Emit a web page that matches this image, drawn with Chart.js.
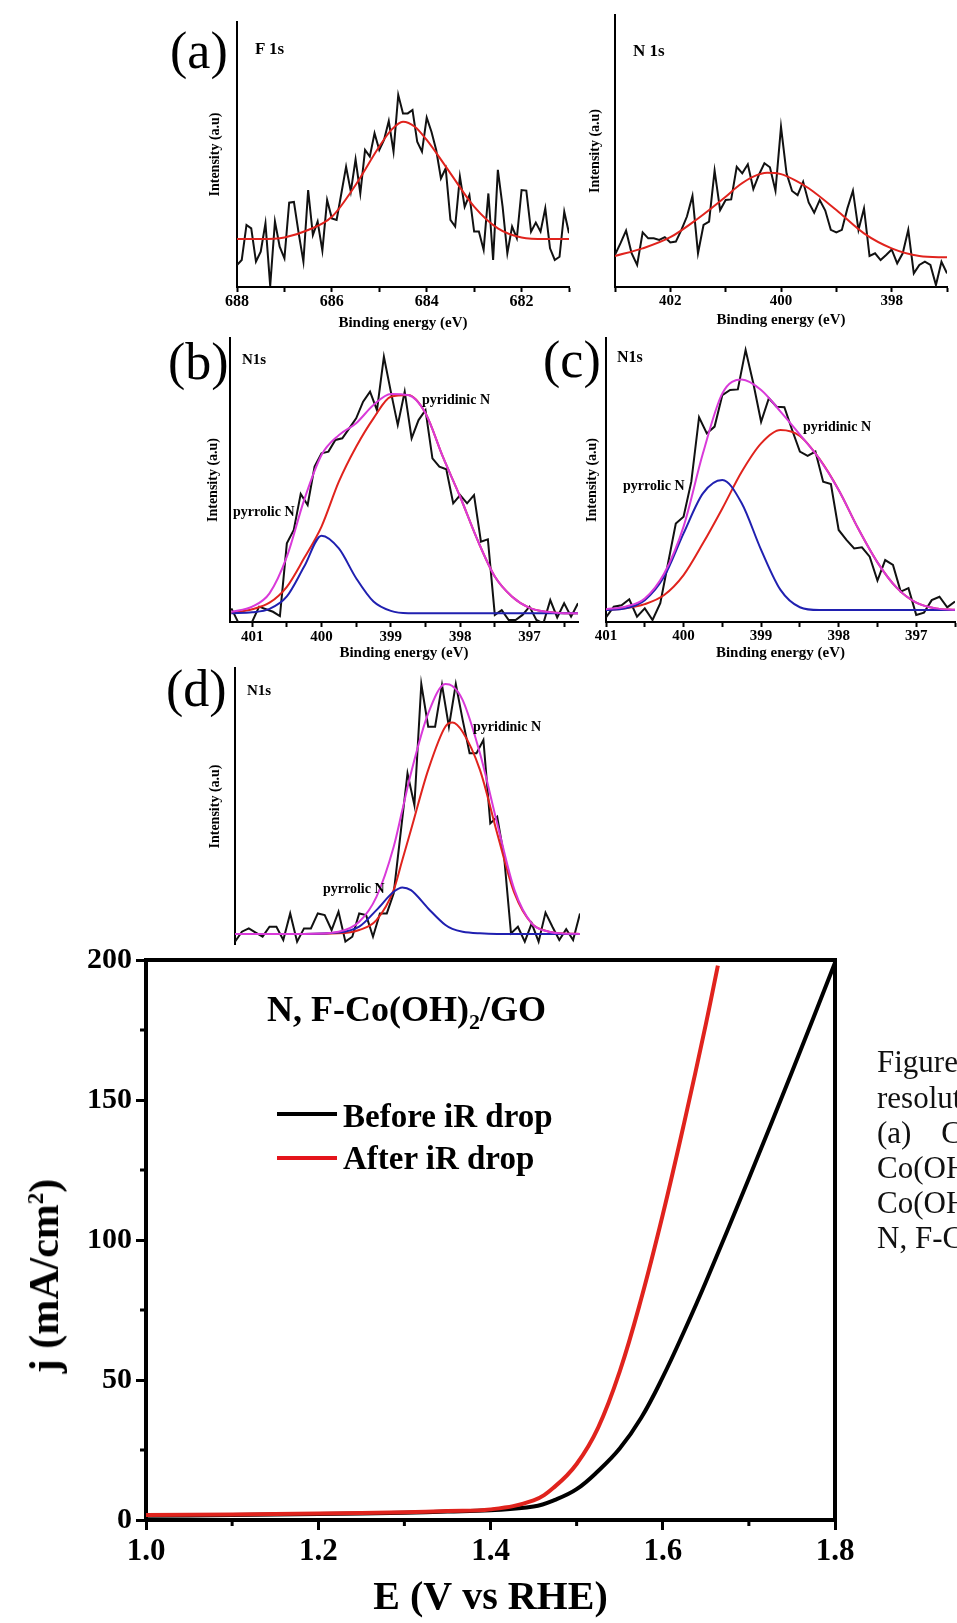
<!DOCTYPE html>
<html lang="en">
  <head>
    <meta charset="UTF-8" />
    <title>XPS N 1s / F 1s and LSV of N, F-Co(OH)2/GO</title>
    <style>
      html,
      body {
        margin: 0;
        padding: 0;
        background: #fff;
        overflow: hidden;
      }
      body {
        position: relative;
        width: 957px;
        height: 1623px;
        font-family: "Liberation Serif", "Times New Roman", serif;
        color: #000;
      }
      canvas {
        position: absolute;
      }
      .txt {
        position: absolute;
        white-space: nowrap;
        line-height: 1;
      }
      .letter {
        font-size: 52px;
      }
      .tag {
        font-weight: bold;
      }
      .peak {
        font-weight: bold;
        font-size: 14px;
      }
      .leg-line {
        position: absolute;
        width: 60px;
        height: 4px;
      }
      .cap {
        font-size: 31px;
        color: #111;
      }
      .ytitle {
        position: absolute;
        left: 44px;
        top: 1276px;
        white-space: nowrap;
        line-height: 1;
        font-size: 42px;
        font-weight: bold;
        transform: translate(-50%, -50%) rotate(-90deg);
      }
      .ytitle sup {
        font-size: 23px;
        line-height: 0;
      }
    </style>
  </head>

  <body>
    <canvas id="panelF1s" width="385" height="322" style="left:195px;top:10px"></canvas>
    <canvas id="panelN1s" width="382" height="324" style="left:575px;top:5px"></canvas>
    <canvas id="panelB" width="393" height="334" style="left:195px;top:328px"></canvas>
    <canvas id="panelC" width="382" height="334" style="left:575px;top:328px"></canvas>
    <canvas id="panelD" width="395" height="287" style="left:195px;top:658px"></canvas>
    <canvas id="lsvChart" width="880" height="693" style="left:0px;top:930px"></canvas>

    <div class="txt letter" style="left:170px;top:25px">(a)</div>
    <div class="txt letter" style="left:168px;top:336px">(b)</div>
    <div class="txt letter" style="left:543px;top:334px">(c)</div>
    <div class="txt letter" style="left:166px;top:663px">(d)</div>

    <div class="txt tag" style="left:255px;top:40px;font-size:17px">F 1s</div>
    <div class="txt tag" style="left:633px;top:42px;font-size:17px">N 1s</div>
    <div class="txt tag" style="left:242px;top:352px;font-size:15px">N1s</div>
    <div class="txt tag" style="left:617px;top:349px;font-size:16px">N1s</div>
    <div class="txt tag" style="left:247px;top:683px;font-size:15px">N1s</div>

    <div class="txt peak" style="left:422px;top:393px">pyridinic N</div>
    <div class="txt peak" style="left:233px;top:505px">pyrrolic N</div>
    <div class="txt peak" style="left:803px;top:420px">pyridinic N</div>
    <div class="txt peak" style="left:623px;top:479px">pyrrolic N</div>
    <div class="txt peak" style="left:473px;top:720px">pyridinic N</div>
    <div class="txt peak" style="left:323px;top:882px">pyrrolic N</div>

    <div class="txt tag" style="left:267px;top:991px;font-size:36px">N, F-Co(OH)<sub style="font-size:22px">2</sub>/GO</div>
    <div class="leg-line" style="left:277px;top:1112px;background:#000"></div>
    <div class="txt tag" style="left:343px;top:1100px;font-size:33px">Before iR drop</div>
    <div class="leg-line" style="left:277px;top:1156px;background:#e4141b"></div>
    <div class="txt tag" style="left:343px;top:1142px;font-size:33px">After iR drop</div>
    <div class="ytitle">j (mA/cm<sup>2</sup>)</div>

    <div class="txt cap" style="left:877px;top:1046px">Figure S</div>
    <div class="txt cap" style="left:877px;top:1082px">resolution</div>
    <div class="txt cap" style="left:877px;top:1117px"><span style="margin-right:22px">(a)</span> Co(OH)</div>
    <div class="txt cap" style="left:877px;top:1152px">Co(OH)</div>
    <div class="txt cap" style="left:877px;top:1187px">Co(OH)</div>
    <div class="txt cap" style="left:877px;top:1222px">N, F-Co(OH)</div>

    <script src="https://cdn.jsdelivr.net/npm/chart.js"></script>
    <script>
      // ---- (a) F 1s ----
      const f1sEnergy = [688.0, 687.9, 687.8, 687.7, 687.6, 687.5, 687.4, 687.3, 687.2, 687.1,
        687.0, 686.9, 686.8, 686.7, 686.6, 686.5, 686.4, 686.3, 686.2, 686.1,
        686.0, 685.9, 685.8, 685.7, 685.6, 685.5, 685.4, 685.3, 685.2, 685.1,
        685.0, 684.9, 684.8, 684.7, 684.6, 684.5, 684.4, 684.3, 684.2, 684.1,
        684.0, 683.9, 683.8, 683.7, 683.6, 683.5, 683.4, 683.3, 683.2, 683.1,
        683.0, 682.9, 682.8, 682.7, 682.6, 682.5, 682.4, 682.3, 682.2, 682.1,
        682.0, 681.9, 681.8, 681.7, 681.6, 681.5, 681.4, 681.3, 681.2, 681.1, 681.0];
      const f1sRaw = [8.3, 10.2, 23.4, 22.1, 9.6, 13.3, 24.0, 0.4, 24.7, 15.2,
        10.8, 31.8, 32.1, 20.3, 9.6, 36.6, 19.6, 24.7, 13.7, 32.8,
        25.9, 25.3, 35.3, 45.4, 36.0, 48.2, 35.3, 51.7, 49.2, 58.0,
        51.7, 55.5, 62.6, 51.1, 72.5, 65.5, 65.5, 66.8, 54.8, 51.1,
        63.9, 58.6, 51.7, 41.0, 44.8, 25.3, 22.8, 41.6, 30.3, 34.7,
        20.9, 20.9, 14.0, 35.3, 10.2, 44.2, 30.3, 12.7, 22.8, 18.4,
        36.6, 36.4, 20.9, 24.3, 20.9, 29.7, 14.6, 10.2, 11.4, 28.4, 20.3];
      const f1sFitEnergy = [688.0, 687.5, 687.0, 686.5, 686.0, 685.5, 685.0, 684.75, 684.5,
        684.25, 684.0, 683.5, 683.0, 682.5, 682.0, 681.5, 681.0];
      const f1sFit = [18.1, 18.1, 18.7, 21.5, 26.5, 38.5, 53.0, 59.2, 62.4,
        60.5, 55.5, 42.9, 30.3, 22.1, 18.7, 18.1, 18.1];

      // ---- (a) N 1s ----
      const n1sEnergy = [403.0, 402.9, 402.8, 402.7, 402.6, 402.5, 402.4, 402.3, 402.2, 402.1,
        402.0, 401.9, 401.8, 401.7, 401.6, 401.5, 401.4, 401.3, 401.2, 401.1,
        401.0, 400.9, 400.8, 400.7, 400.6, 400.5, 400.4, 400.3, 400.2, 400.1,
        400.0, 399.9, 399.8, 399.7, 399.6, 399.5, 399.4, 399.3, 399.2, 399.1,
        399.0, 398.9, 398.8, 398.7, 398.6, 398.5, 398.4, 398.3, 398.2, 398.1,
        398.0, 397.9, 397.8, 397.7, 397.6, 397.5, 397.4, 397.3, 397.2, 397.1, 397.0];
      const n1sRaw = [11.8, 16.1, 20.7, 12.4, 8.1, 20.1, 17.9, 17.9, 17.3, 18.3,
        16.4, 16.7, 21.0, 25.9, 33.5, 12.4, 22.8, 24.0, 42.8, 28.3,
        32.0, 32.2, 44.2, 41.8, 45.1, 36.0, 41.2, 45.5, 44.0, 35.4,
        58.9, 41.8, 35.3, 33.8, 38.7, 31.1, 27.3, 32.0, 28.1, 21.0,
        20.1, 21.0, 28.9, 35.4, 21.0, 28.9, 11.4, 12.4, 9.9, 11.8,
        13.8, 8.7, 12.4, 21.0, 5.0, 8.1, 9.3, 8.1, 0.7, 9.3, 5.0];
      const n1sFitEnergy = [403.0, 402.5, 402.0, 401.5, 401.0, 400.75, 400.5, 400.25,
        400.0, 399.75, 399.5, 399.0, 398.5, 398.0, 397.5, 397.0];
      const n1sFit = [11.4, 14.2, 18.3, 25.2, 33.2, 37.5, 40.6, 42.0,
        41.5, 39.3, 36.3, 28.3, 19.7, 14.2, 11.4, 10.9];

      // ---- (b) N1s ----
      const bEnergy = [401.3, 401.2, 401.1, 401.0, 400.9, 400.8, 400.7, 400.6, 400.5, 400.4,
        400.3, 400.2, 400.1, 400.0, 399.9, 399.8, 399.7, 399.6, 399.5, 399.4,
        399.3, 399.2, 399.1, 399.0, 398.9, 398.8, 398.7, 398.6, 398.5, 398.4,
        398.3, 398.2, 398.1, 398.0, 397.9, 397.8, 397.7, 397.6, 397.5, 397.4,
        397.3, 397.2, 397.1, 397.0, 396.9, 396.8, 396.7, 396.6, 396.5, 396.4, 396.3];
      const bRaw = [4.8, -0.2, -0.5, 0.1, 5.4, 4.5, 3.6, 2.1, 27.7, 32.4,
        45.1, 41.2, 54.7, 59.4, 60.0, 64.1, 64.7, 68.2, 71.7, 77.6,
        81.1, 74.6, 93.4, 81.1, 69.4, 81.1, 64.7, 71.1, 74.6, 57.6,
        54.7, 53.8, 41.8, 44.7, 41.8, 44.7, 28.3, 29.1, 2.5, 4.2,
        0.7, 0.7, 2.5, 5.4, 0.7, -0.5, 7.7, 1.6, 6.6, 1.9, 6.6];
      const bFitEnergy = [401.3, 401.0, 400.75, 400.5, 400.25, 400.0, 399.75, 399.5, 399.25,
        399.0, 398.75, 398.5, 398.25, 398.0, 397.75, 397.5, 397.25, 397.0, 396.75, 396.5, 396.3];
      const bPyridinic = [3.1, 4.5, 6.8, 12.4, 22.5, 33.6, 49.4, 61.7, 71.7,
        79.3, 79.9, 73.5, 58.2, 44.1, 28.9, 16.0, 8.9, 5.0, 3.6, 3.1, 3.1];
      const bPyrrolic = [3.1, 3.4, 4.6, 9.0, 19.5, 30.4, 25.9, 15.4, 7.2,
        3.9, 3.1, 3.1, 3.1, 3.1, 3.1, 3.1, 3.1, 3.1, 3.1, 3.1, 3.1];
      const bEnvelope = [3.6, 5.4, 10.1, 23.0, 43.0, 58.8, 65.8, 70.0, 76.4,
        80.3, 79.9, 73.5, 58.2, 44.1, 28.9, 16.0, 8.9, 5.0, 3.6, 3.1, 3.1];

      // ---- (c) N1s ----
      const cEnergy = [401.0, 400.9, 400.8, 400.7, 400.6, 400.5, 400.4, 400.3, 400.2, 400.1,
        400.0, 399.9, 399.8, 399.7, 399.6, 399.5, 399.4, 399.3, 399.2, 399.1,
        399.0, 398.9, 398.8, 398.7, 398.6, 398.5, 398.4, 398.3, 398.2, 398.1,
        398.0, 397.9, 397.8, 397.7, 397.6, 397.5, 397.4, 397.3, 397.2, 397.1,
        397.0, 396.9, 396.8, 396.7, 396.6, 396.5];
      const cRaw = [1.6, 5.4, 5.9, 8.0, 1.9, 4.8, 0.7, 6.6, 20.7, 34.7,
        37.1, 49.4, 72.1, 66.4, 68.8, 79.9, 81.7, 81.9, 95.8, 84.0,
        70.5, 78.8, 75.8, 75.6, 67.6, 60.0, 58.5, 60.0, 49.4, 48.6,
        32.4, 28.9, 25.9, 26.3, 23.0, 14.6, 21.8, 20.1, 10.7, 11.9,
        2.5, 3.3, 7.7, 8.9, 5.2, 7.2];
      const cFitEnergy = [401.0, 400.75, 400.5, 400.25, 400.0, 399.75, 399.5, 399.25, 399.0,
        398.75, 398.5, 398.25, 398.0, 397.75, 397.5, 397.25, 397.0, 396.75, 396.5];
      const cPyridinic = [4.2, 4.8, 6.3, 9.5, 16.5, 27.7, 40.0, 52.9, 62.9,
        67.6, 65.5, 57.5, 46.5, 33.0, 21.0, 12.0, 6.8, 4.8, 4.3];
      const cPyrrolic = [4.2, 4.8, 7.7, 16.0, 31.2, 45.3, 50.0, 41.8, 25.4,
        11.3, 5.2, 4.2, 4.2, 4.2, 4.2, 4.2, 4.2, 4.2, 4.2];
      const cEnvelope = [4.5, 5.4, 8.3, 17.1, 33.6, 59.4, 80.5, 85.4, 81.7,
        74.1, 66.0, 57.5, 46.5, 33.0, 21.0, 12.0, 6.8, 4.8, 4.3];

      // ---- (d) N1s ----
      const dEnergy = bEnergy;
      const dRaw = [1.2, 4.8, 6.0, 4.5, 3.0, 6.6, 6.6, 1.8, 11.4, 1.2,
        6.0, 6.0, 11.4, 10.8, 5.4, 12.0, 1.2, 3.0, 11.4, 10.8,
        3.0, 11.4, 11.4, 18.7, 40.3, 62.0, 50.5, 94.2, 78.8, 78.8,
        93.9, 78.8, 94.2, 81.2, 69.2, 69.2, 74.0, 43.9, 46.3, 31.9,
        4.2, 6.6, 1.2, 7.8, 1.2, 11.7, 6.6, 1.8, 5.7, 1.8, 11.4];
      const dFitEnergy = [401.3, 400.8, 400.3, 399.8, 399.5, 399.25, 399.0, 398.875, 398.75, 398.5,
        398.25, 398.15, 398.0, 397.75, 397.5, 397.25, 397.0, 396.75, 396.5, 396.3];
      const dPyridinic = [4.0, 4.0, 4.0, 4.2, 5.4, 9.0, 19.9, 30.7, 41.5, 63.2,
        78.9, 80.3, 76.9, 63.2, 40.3, 18.7, 7.8, 4.8, 4.1, 4.0];
      const dPyrrolic = [4.0, 4.0, 4.0, 4.5, 6.6, 12.6, 19.2, 20.8, 19.8, 13.2,
        7.2, 5.8, 4.8, 4.2, 4.0, 4.0, 4.0, 4.0, 4.0, 4.0];
      const dEnvelope = [4.0, 4.0, 4.0, 4.8, 8.4, 17.4, 35.5, 48.7, 62.0, 83.6,
        94.2, 93.5, 88.4, 69.2, 43.9, 19.9, 7.8, 4.8, 4.1, 4.0];

      // ---- LSV ----
      const eBefore = [1.0, 1.1, 1.2, 1.3, 1.35, 1.4, 1.45, 1.475, 1.5, 1.525, 1.55, 1.575,
        1.6, 1.625, 1.65, 1.7, 1.75, 1.8];
      const jBefore = [1.5, 1.8, 2.1, 2.6, 3.0, 3.5, 4.8, 7.2, 11, 17.5, 25.5, 36.5,
        51, 67.5, 85, 122, 160, 199];
      const eAfter = [1.0, 1.1, 1.2, 1.3, 1.35, 1.4, 1.45, 1.475, 1.5, 1.525, 1.55, 1.575,
        1.6, 1.625, 1.65, 1.664];
      const jAfter = [1.8, 2.0, 2.3, 2.8, 3.2, 3.8, 7.0, 12, 20, 33, 53, 79,
        109, 142, 177, 198];

      const BLACK = "#111";
      const RED = "#e0231d";
      const BLUE = "#2020b0";
      const MAGENTA = "#d93ad9";

      Chart.defaults.font.family = "'Liberation Serif', 'Times New Roman', serif";
      Chart.defaults.color = "#000";

      function series(xs, ys, color, smooth, width) {
        return {
          data: xs.map((x, i) => ({ x: x, y: ys[i] })),
          borderColor: color,
          borderWidth: width || 2,
          pointRadius: 0,
          fill: false,
          tension: 0,
          cubicInterpolationMode: smooth ? "monotone" : "default",
        };
      }

      function isLabel(v, every) {
        const k = v / every;
        return Math.abs(k - Math.round(k)) < 1e-6;
      }

      function makeXps(id, o) {
        new Chart(document.getElementById(id), {
          type: "line",
          data: { datasets: o.datasets },
          options: {
            responsive: false,
            animation: false,
            events: [],
            layout: { padding: { top: o.padTop, right: o.padRight, left: 0, bottom: 0 } },
            plugins: { legend: { display: false }, tooltip: { enabled: false } },
            scales: {
              x: {
                type: "linear",
                reverse: true,
                min: o.xMin,
                max: o.xMax,
                display: o.showX !== false,
                afterFit: (s) => { s.height = o.xHeight; },
                border: { display: true, color: "#000", width: 2 },
                grid: { drawOnChartArea: false, drawTicks: true, tickLength: 5, tickWidth: 2, tickColor: "#000" },
                ticks: {
                  stepSize: o.step,
                  includeBounds: false,
                  autoSkip: false,
                  maxRotation: 0,
                  padding: o.tickPad,
                  color: "#000",
                  font: { size: o.tickSize, weight: "bold" },
                  callback: (v) => (isLabel(v, o.labelStep) ? String(Math.round(v)) : ""),
                },
                title: {
                  display: true,
                  text: "Binding energy (eV)",
                  color: "#000",
                  font: { size: 15, weight: "bold" },
                  padding: 0,
                },
              },
              y: {
                min: 0,
                max: 100,
                afterFit: (s) => { s.width = o.yWidth; },
                border: { display: true, color: "#000", width: 2 },
                grid: { display: false, drawTicks: false },
                ticks: { display: false },
                title: {
                  display: true,
                  text: "Intensity (a.u)",
                  color: "#000",
                  font: { size: 14, weight: "bold" },
                  padding: { top: o.yTitlePad, bottom: 0 },
                },
              },
            },
          },
        });
      }

      makeXps("panelF1s", {
        xMin: 681, xMax: 688, step: 1, labelStep: 2, tickSize: 16, tickPad: 0,
        padTop: 12, padRight: 11, yWidth: 42, xHeight: 45, yTitlePad: 12,
        datasets: [series(f1sFitEnergy, f1sFit, RED, true), series(f1sEnergy, f1sRaw, BLACK, false)],
      });

      makeXps("panelN1s", {
        xMin: 397, xMax: 403, step: 1, labelStep: 2, tickSize: 15, tickPad: 0,
        padTop: 10, padRight: 10, yWidth: 40, xHeight: 42, yTitlePad: 12,
        datasets: [series(n1sFitEnergy, n1sFit, RED, true), series(n1sEnergy, n1sRaw, BLACK, false)],
      });

      makeXps("panelB", {
        xMin: 396.3, xMax: 401.32, step: 0.5, labelStep: 1, tickSize: 15, tickPad: 1,
        padTop: 10, padRight: 10, yWidth: 35, xHeight: 40, yTitlePad: 10,
        datasets: [
          series(bFitEnergy, bEnvelope, MAGENTA, true),
          series(bFitEnergy, bPyrrolic, BLUE, true),
          series(bFitEnergy, bPyridinic, RED, true),
          series(bEnergy, bRaw, BLACK, false),
        ],
      });

      makeXps("panelC", {
        xMin: 396.5, xMax: 401, step: 0.5, labelStep: 1, tickSize: 15, tickPad: 0,
        padTop: 10, padRight: 2, yWidth: 31, xHeight: 40, yTitlePad: 9,
        datasets: [
          series(cFitEnergy, cEnvelope, MAGENTA, true),
          series(cFitEnergy, cPyrrolic, BLUE, true),
          series(cFitEnergy, cPyridinic, RED, true),
          series(cEnergy, cRaw, BLACK, false),
        ],
      });

      makeXps("panelD", {
        xMin: 396.3, xMax: 401.3, step: 0.5, labelStep: 1, tickSize: 15, tickPad: 0,
        padTop: 10, padRight: 10, yWidth: 40, xHeight: 0, yTitlePad: 12, showX: false,
        datasets: [
          series(dFitEnergy, dEnvelope, MAGENTA, true),
          series(dFitEnergy, dPyrrolic, BLUE, true),
          series(dFitEnergy, dPyridinic, RED, true),
          series(dEnergy, dRaw, BLACK, false),
        ],
      });

      // top/right frame and short minor ticks for the LSV plot
      const frameAndMinorTicks = {
        id: "frameAndMinorTicks",
        afterDraw(chart) {
          const { ctx, chartArea: a, scales } = chart;
          const x = scales.x;
          const y = scales.y;
          ctx.save();
          ctx.strokeStyle = "#000";
          ctx.lineWidth = 4;
          ctx.lineJoin = "miter";
          ctx.beginPath();
          ctx.moveTo(a.left - 2, a.top);
          ctx.lineTo(a.right, a.top);
          ctx.lineTo(a.right, a.bottom + 2);
          ctx.stroke();

          ctx.lineWidth = 3;
          ctx.beginPath();
          for (let i = 0; i < x.ticks.length - 1; i++) {
            const px = x.getPixelForValue((x.ticks[i].value + x.ticks[i + 1].value) / 2);
            ctx.moveTo(px, a.bottom);
            ctx.lineTo(px, a.bottom + 6);
          }
          for (let i = 0; i < y.ticks.length - 1; i++) {
            const py = y.getPixelForValue((y.ticks[i].value + y.ticks[i + 1].value) / 2);
            ctx.moveTo(a.left, py);
            ctx.lineTo(a.left - 6, py);
          }
          ctx.stroke();
          ctx.restore();
        },
      };

      function lsvSeries(xs, ys, color, label) {
        const s = series(xs, ys, color, false, 4);
        s.tension = 0.4;
        s.label = label;
        return s;
      }

      new Chart(document.getElementById("lsvChart"), {
        type: "line",
        data: {
          datasets: [
            lsvSeries(eAfter, jAfter, RED, "After iR drop"),
            lsvSeries(eBefore, jBefore, "#000", "Before iR drop"),
          ],
        },
        options: {
          responsive: false,
          animation: false,
          events: [],
          layout: { padding: { top: 30, right: 45, left: 0, bottom: 0 } },
          plugins: { legend: { display: false }, tooltip: { enabled: false } },
          scales: {
            x: {
              type: "linear",
              min: 1.0,
              max: 1.8,
              afterFit: (s) => { s.height = 103; },
              border: { display: true, color: "#000", width: 4 },
              grid: { drawOnChartArea: false, tickLength: 10, tickWidth: 3, tickColor: "#000" },
              ticks: {
                stepSize: 0.2,
                autoSkip: false,
                maxRotation: 0,
                padding: 3,
                color: "#000",
                font: { size: 31, weight: "bold" },
                callback: (v) => v.toFixed(1),
              },
              title: {
                display: true,
                text: "E (V vs RHE)",
                color: "#000",
                font: { size: 40, weight: "bold" },
                padding: 0,
              },
            },
            y: {
              min: 0,
              max: 200,
              afterFit: (s) => { s.width = 146; },
              border: { display: true, color: "#000", width: 4 },
              grid: { drawOnChartArea: false, tickLength: 10, tickWidth: 3, tickColor: "#000" },
              ticks: {
                stepSize: 50,
                padding: 4,
                color: "#000",
                font: { size: 30, weight: "bold" },
              },
              title: { display: false },
            },
          },
        },
        plugins: [frameAndMinorTicks],
      });
    </script>
  </body>
</html>
